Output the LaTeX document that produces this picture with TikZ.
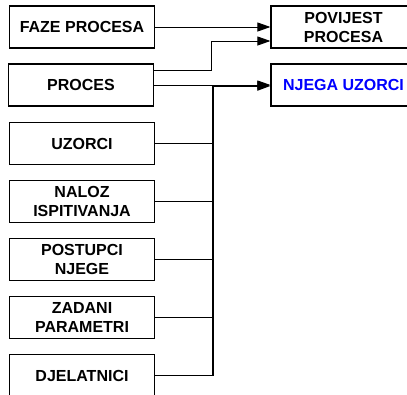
\documentclass[tikz,border=0pt]{standalone}
\usepackage{fontspec}
\setmainfont{Liberation Sans}
\usetikzlibrary{arrows.meta}

\begin{document}
\begin{tikzpicture}[x=1pt,y=1pt,
  box/.style={draw,line width=1.2pt,minimum width=145pt,minimum height=42pt,inner sep=0pt,align=center,font=\fontsize{16}{19}\selectfont\bfseries},
  rbox/.style={box,minimum width=145pt},
  link/.style={line width=.9pt},
  arr/.style={-{Triangle[length=13pt,width=9pt]}}]
\useasboundingbox (0,0) rectangle (407,-394);
\clip (0,0) rectangle (407,-394);
\fill[white] (0,0) rectangle (407,-394);
% left column
\node[box] (faze) at (82,-27){FAZE PROCESA};
\node[box] (proces) at (81,-85){PROCES};
\node[box] (uzorci) at (82,-143.5){UZORCI};
\node[box] (naloz) at (82,-201.5){NALOZ\\ISPITIVANJA};
\node[box] (postupci) at (82,-259.5){POSTUPCI\\NJEGE};
\node[box] (zadani) at (82,-317.5){ZADANI\\PARAMETRI};
\node[box] (djel) at (82,-375.5){DJELATNICI};
% right column
\node[rbox] (povijest) at (343.5,-27){POVIJEST\\PROCESA};
\node[rbox,text=blue] (njega) at (343.5,-85){NJEGA UZORCI};
% links
\draw[link,arr] (faze) -- (povijest);
\draw[link,arr] ([yshift=15pt]proces.east) -- ++(57,0) |- ([yshift=-14pt]povijest.west);
\draw[link,arr] (proces) -- (njega);
\coordinate (bus) at (213,-86);
\draw[line width=2pt,arr] (bus |- djel.east) -- (bus) -- (bus -| njega.west);
\foreach \b in {uzorci,naloz,postupci,zadani,djel} \draw[link] (\b) -- (\b -| bus);
\end{tikzpicture}
\end{document}
